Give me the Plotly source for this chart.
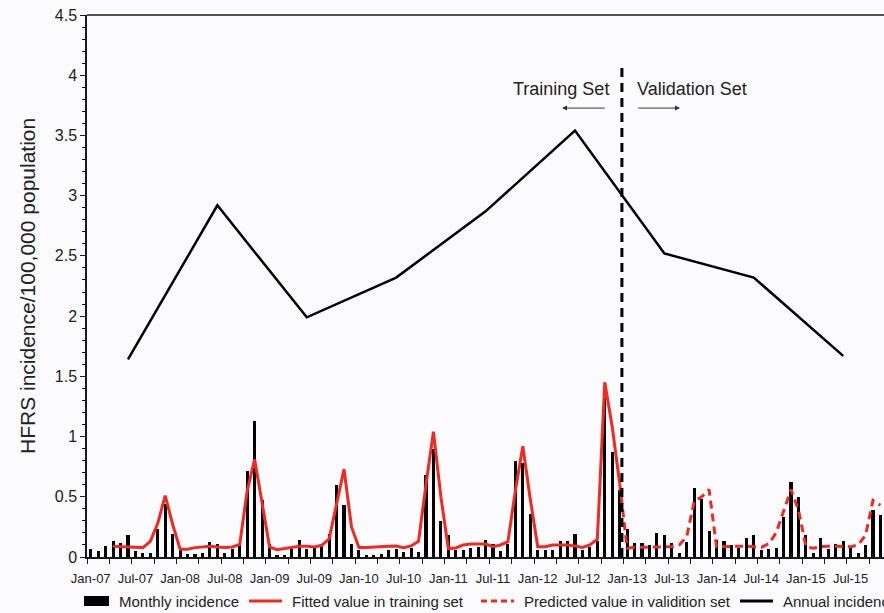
import plotly.graph_objects as go

# ---------------- data ----------------
years = ["07", "08", "09", "10", "11", "12", "13", "14", "15"]

monthly_incidence = [
    0.064, 0.050, 0.089, 0.130, 0.116, 0.180, 0.050, 0.036, 0.036, 0.230, 0.440, 0.190,   # 2007
    0.055, 0.028, 0.028, 0.036, 0.125, 0.105, 0.036, 0.064, 0.097, 0.710, 1.130, 0.470,   # 2008
    0.110, 0.014, 0.014, 0.070, 0.140, 0.064, 0.090, 0.090, 0.190, 0.600, 0.430, 0.105,   # 2009
    0.055, 0.014, 0.014, 0.028, 0.055, 0.064, 0.040, 0.078, 0.040, 0.680, 0.900, 0.300,   # 2010
    0.180, 0.055, 0.058, 0.072, 0.086, 0.140, 0.110, 0.053, 0.110, 0.800, 0.780, 0.360,   # 2011
    0.058, 0.058, 0.058, 0.130, 0.130, 0.190, 0.058, 0.086, 0.130, 1.320, 0.870, 0.560,   # 2012
    0.230, 0.120, 0.120, 0.100, 0.200, 0.180, 0.120, 0.030, 0.127, 0.570, 0.480, 0.220,   # 2013
    0.140, 0.136, 0.100, 0.072, 0.160, 0.180, 0.058, 0.064, 0.078, 0.335, 0.620, 0.500,   # 2014
    0.180, 0.036, 0.160, 0.064, 0.108, 0.136, 0.086, 0.036, 0.100, 0.390, 0.350,          # 2015 (to Nov)
]

fitted_start = 3  # Apr-07
fitted_training = [
    0.089, 0.083, 0.083, 0.080, 0.078, 0.130, 0.280, 0.510, 0.270,                         # Apr-Dec 07
    0.065, 0.064, 0.078, 0.083, 0.090, 0.083, 0.078, 0.083, 0.105, 0.550, 0.810, 0.450,   # 2008
    0.083, 0.060, 0.070, 0.083, 0.090, 0.090, 0.083, 0.097, 0.150, 0.440, 0.730, 0.250,   # 2009
    0.078, 0.078, 0.083, 0.090, 0.090, 0.092, 0.078, 0.092, 0.130, 0.600, 1.040, 0.500,   # 2010
    0.070, 0.075, 0.100, 0.108, 0.108, 0.108, 0.086, 0.100, 0.127, 0.550, 0.920, 0.480,   # 2011
    0.086, 0.086, 0.100, 0.100, 0.100, 0.092, 0.080, 0.100, 0.147, 1.450, 1.080, 0.610,   # 2012
]

predicted_start = 71  # Dec-12
predicted_validation = [
    0.610,
    0.072, 0.080, 0.080, 0.086, 0.086, 0.085, 0.085, 0.100, 0.170, 0.460, 0.500, 0.560,   # 2013
    0.086, 0.086, 0.090, 0.090, 0.090, 0.086, 0.080, 0.110, 0.200, 0.380, 0.560, 0.390,   # 2014
    0.086, 0.072, 0.086, 0.090, 0.090, 0.086, 0.086, 0.100, 0.180, 0.470, 0.430,          # 2015 (to Nov)
]

annual_years = [2007, 2008, 2009, 2010, 2011, 2012, 2013, 2014, 2015]
annual_incidence = [1.64, 2.92, 1.99, 2.32, 2.87, 3.54, 2.52, 2.32, 1.67]

split_month = 71.3          # training / validation boundary (month index)
split_top = 4.1

tick_labels = [f"{m}-{y}" for y in years for m in ("Jan", "Jul")]

# ---------------- derived positions ----------------
month_x = list(range(len(monthly_incidence)))
fitted_x = list(range(fitted_start, fitted_start + len(fitted_training)))
predicted_x = list(range(predicted_start, predicted_start + len(predicted_validation)))
annual_x = [(y - 2007) * 12 + 5 for y in annual_years]
tick_vals = [i * 6 for i in range(len(tick_labels))]

FONT = "Liberation Sans, Arial, Helvetica, sans-serif"
RED = "#EE2A24"
INK = "#1a1a1a"
BG = "#FBFBFD"

W, H = 884, 613
L, R, T, B = 87, 0, 15, 56
plot_w = W - L - R
plot_h = H - T - B


def px_x(p):
    return (p - L) / plot_w


def px_y(p):
    return (H - B - p) / plot_h


fig = go.Figure()

fig.add_trace(go.Bar(
    x=month_x, y=monthly_incidence, width=0.42,
    marker=dict(color="#000000", line=dict(width=0)),
    name="Monthly incidence", showlegend=False,
))
fig.add_trace(go.Scatter(
    x=fitted_x, y=fitted_training, mode="lines",
    line=dict(color=RED, width=3),
    name="Fitted value in training set", showlegend=False,
))
fig.add_trace(go.Scatter(
    x=predicted_x, y=predicted_validation, mode="lines",
    line=dict(color=RED, width=3, dash="8px,5px"),
    name="Predicted value in validition set", showlegend=False,
))
fig.add_trace(go.Scatter(
    x=annual_x, y=annual_incidence, mode="lines",
    line=dict(color="#000000", width=2.5),
    name="Annual incidence", showlegend=False,
))
fig.add_trace(go.Scatter(
    x=[split_month, split_month], y=[0, split_top], mode="lines",
    line=dict(color="#000000", width=3, dash="9px,6px"),
    showlegend=False, hoverinfo="skip",
))

annotations = [
    dict(x=63.06, y=3.883, xref="x", yref="y", text="Training Set", showarrow=False,
         font=dict(family=FONT, size=18, color="#222")),
    dict(x=80.67, y=3.883, xref="x", yref="y", text="Validation Set", showarrow=False,
         font=dict(family=FONT, size=18, color="#222")),
    dict(x=63.26, y=3.727, xref="x", yref="y", ax=69.2, ay=3.727, axref="x", ayref="y",
         text="", showarrow=True, arrowhead=2, arrowsize=1, arrowwidth=1, arrowcolor="#333"),
    dict(x=79.1, y=3.727, xref="x", yref="y", ax=73.3, ay=3.727, axref="x", ayref="y",
         text="", showarrow=True, arrowhead=2, arrowsize=1, arrowwidth=1, arrowcolor="#333"),
    dict(x=px_x(27), y=0.5, xref="paper", yref="paper", text="HFRS incidence/100,000 population",
         textangle=-90, showarrow=False, xanchor="center", yanchor="middle",
         font=dict(family=FONT, size=21, color="#222")),
]

# custom legend (the reference is cropped on the right)
leg_y = px_y(601)
legend_items = [
    ("box", 84, 109, 117, "Monthly incidence"),
    ("solid", 249, 282, 290, "Fitted value in training set"),
    ("dash", 481, 514, 522, "Predicted value in validition set"),
    ("black", 740, 773, 781, "Annual incidence"),
]
shapes = [
    dict(type="line", xref="paper", yref="paper", x0=0, x1=1, y0=1, y1=1,
         line=dict(color=INK, width=1.5)),
]
for kind, x0, x1, tx, label in legend_items:
    if kind == "box":
        shapes.append(dict(type="rect", xref="paper", yref="paper",
                           x0=px_x(x0), x1=px_x(x1), y0=px_y(606), y1=px_y(596),
                           fillcolor="#000", line=dict(width=0)))
    else:
        col = "#000" if kind == "black" else RED
        dash = "6px,4px" if kind == "dash" else "solid"
        shapes.append(dict(type="line", xref="paper", yref="paper",
                           x0=px_x(x0), x1=px_x(x1), y0=leg_y, y1=leg_y,
                           line=dict(color=col, width=3, dash=dash)))
    annotations.append(dict(x=px_x(tx), y=leg_y, xref="paper", yref="paper", text=label,
                            showarrow=False, xanchor="left", yanchor="middle",
                            font=dict(family=FONT, size=15, color="#222")))

fig.update_layout(
    width=W, height=H,
    margin=dict(l=L, r=R, t=T, b=B),
    paper_bgcolor=BG, plot_bgcolor=BG,
    bargap=0, showlegend=False,
    font=dict(family=FONT, color="#222"),
    annotations=annotations, shapes=shapes,
    xaxis=dict(
        range=[-0.5, -0.5 + plot_w / 7.45],
        tickmode="array", tickvals=tick_vals, ticktext=tick_labels,
        ticks="", ticklabelstandoff=9,
        tickfont=dict(family=FONT, size=13, color="#222"),
        minor=dict(tickmode="linear", tick0=-0.5, dtick=3, ticks="outside",
                   ticklen=5, tickwidth=1.2, tickcolor=INK),
        showline=True, linecolor=INK, linewidth=1.5,
        showgrid=False, zeroline=False,
    ),
    yaxis=dict(
        range=[0, 4.5], tickmode="linear", tick0=0, dtick=0.5,
        ticks="outside", ticklen=5, tickwidth=1.2, tickcolor=INK,
        minor=dict(tickmode="linear", tick0=0, dtick=0.1, ticks="outside",
                   ticklen=3, tickwidth=1, tickcolor=INK),
        tickfont=dict(family=FONT, size=16, color="#222"),
        showline=True, linecolor=INK, linewidth=1.5,
        showgrid=False, zeroline=False,
    ),
)

fig.write_html(
    "out.html",
    config={"displayModeBar": False},
    post_script="document.body.style.margin='0';document.body.style.overflow='hidden';",
)
